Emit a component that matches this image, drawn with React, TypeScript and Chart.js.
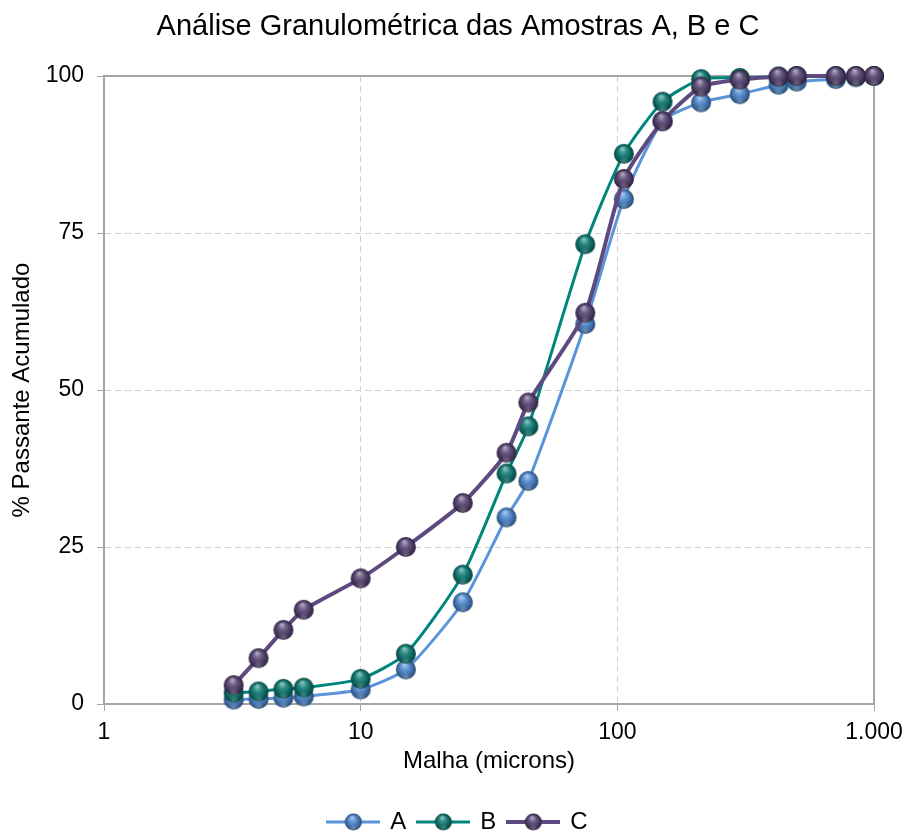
import React, { useEffect, useRef } from "react";
import { Chart, registerables } from "chart.js";

Chart.register(...registerables);

// ---- data ----
const sieveSizes = [3.2, 4, 5, 6, 10, 15, 25, 37, 45, 75, 106, 150, 212, 300, 425, 500, 710, 850, 1000];
const passingA = [0.7, 0.8, 1.0, 1.2, 2.3, 5.5, 16.2, 29.7, 35.5, 60.5, 80.4, 92.8, 95.8, 97.1, 98.6, 99.1, 99.5, 99.8, 100];
const passingB = [1.8, 2.0, 2.4, 2.6, 4.0, 8.0, 20.6, 36.7, 44.2, 73.2, 87.6, 95.9, 99.5, 99.7, 99.9, 100, 100, 100, 100];
const passingC = [3.0, 7.3, 11.8, 15.0, 20.0, 25.0, 32.0, 40.0, 48.0, 62.3, 83.6, 92.8, 98.3, 99.4, 99.9, 100, 100, 100, 100];
const seriesNames = ["A", "B", "C"];
const xTickValues = [1, 10, 100, 1000];
const xTickLabels = ["1", "10", "100", "1.000"];
const yTickValues = [0, 25, 50, 75, 100];

const chartTitle = "Análise Granulométrica das Amostras A, B e C";
const xTitle = "Malha (microns)";
const yTitle = "% Passante Acumulado";

// ---- styles ----
const lineColors = ["#5B94D9", "#00857C", "#5E4A80"];
const markerColors = ["#4A86CF", "#0B7A72", "#564373"];
const lineWidths = [3, 3, 4];
const FONT = '"Liberation Sans", Arial, sans-serif';

function hexToRgb(h: string) {
  const n = parseInt(h.slice(1), 16);
  return [(n >> 16) & 255, (n >> 8) & 255, n & 255];
}
function mix(h: string, t: string, a: number) {
  const c = hexToRgb(h);
  const d = hexToRgb(t);
  return `rgb(${c.map((v, i) => Math.round(v + (d[i] - v) * a)).join(",")})`;
}

function drawSphere(ctx: CanvasRenderingContext2D, cx: number, cy: number, r: number, color: string) {
  const g = ctx.createRadialGradient(cx - r * 0.15, cy - r * 0.55, r * 0.05, cx, cy + r * 0.05, r * 1.05);
  g.addColorStop(0, mix(color, "#ffffff", 0.55));
  g.addColorStop(0.35, mix(color, "#ffffff", 0.12));
  g.addColorStop(0.75, mix(color, "#000000", 0.25));
  g.addColorStop(1, mix(color, "#000000", 0.55));
  ctx.fillStyle = g;
  ctx.beginPath();
  ctx.arc(cx, cy, r, 0, Math.PI * 2);
  ctx.fill();
  const g2 = ctx.createRadialGradient(cx, cy + r * 0.8, 0, cx, cy + r * 0.8, r * 0.55);
  g2.addColorStop(0, "rgba(255,255,255,0.25)");
  g2.addColorStop(1, "rgba(255,255,255,0)");
  ctx.fillStyle = g2;
  ctx.beginPath();
  ctx.arc(cx, cy, r, 0, Math.PI * 2);
  ctx.fill();
}

function makeSphere(color: string, r: number) {
  const c = document.createElement("canvas");
  const size = Math.ceil(r * 2 + 2);
  c.width = size;
  c.height = size;
  const ctx = c.getContext("2d")!;
  drawSphere(ctx, size / 2, size / 2, r, color);
  return c;
}

function makeLegendImage(lineColor: string, markerColor: string, lw: number) {
  const c = document.createElement("canvas");
  c.width = 54;
  c.height = 20;
  const ctx = c.getContext("2d")!;
  ctx.strokeStyle = lineColor;
  ctx.lineWidth = lw;
  ctx.beginPath();
  ctx.moveTo(0, 10);
  ctx.lineTo(54, 10);
  ctx.stroke();
  drawSphere(ctx, 27, 10, 8.5, markerColor);
  return c;
}

const plotBorder = {
  id: "plotBorder",
  beforeDatasetsDraw(chart: any) {
    const { ctx, chartArea } = chart;
    ctx.save();
    ctx.strokeStyle = "#a6a6a6";
    ctx.lineWidth = 2;
    ctx.beginPath();
    ctx.moveTo(chartArea.left, chartArea.top);
    ctx.lineTo(chartArea.right, chartArea.top);
    ctx.lineTo(chartArea.right, chartArea.bottom);
    ctx.stroke();
    ctx.restore();
  },
};

export default function App() {
  const ref = useRef<HTMLCanvasElement | null>(null);

  useEffect(() => {
    if (!ref.current) return;
    const series = [passingA, passingB, passingC];
    const spheres = markerColors.map((c) => makeSphere(c, 10));
    const legendImgs = markerColors.map((c, i) => makeLegendImage(lineColors[i], c, lineWidths[i]));

    const chart = new Chart(ref.current, {
      type: "line",
      data: {
        datasets: series.map((vals, i) => ({
          label: seriesNames[i],
          data: sieveSizes.map((x, j) => ({ x, y: vals[j] })),
          borderColor: lineColors[i],
          backgroundColor: markerColors[i],
          borderWidth: lineWidths[i],
          pointStyle: spheres[i] as any,
          pointRadius: 10,
          pointHoverRadius: 10,
          tension: 0.2,
          order: 2 - i,
          clip: false as any,
        })),
      },
      options: {
        animation: false,
        responsive: false,
        devicePixelRatio: 1,
        font: { family: FONT },
        layout: { padding: { left: 42, right: 29, top: 0, bottom: -10 } },
        plugins: {
          title: {
            display: true,
            text: chartTitle,
            color: "#000",
            font: { family: FONT, size: 29, weight: "normal" },
            padding: { top: 10, bottom: 31.2 },
          },
          legend: {
            position: "bottom",
            labels: {
              usePointStyle: true,
              pointStyleWidth: 50,
              color: "#000",
              font: { family: FONT, size: 24 },
              padding: 12,
              generateLabels: () =>
                seriesNames.map((n, i) => ({
                  text: n,
                  pointStyle: legendImgs[i] as any,
                  fillStyle: markerColors[i],
                  strokeStyle: lineColors[i],
                  lineWidth: 0,
                  hidden: false,
                  datasetIndex: i,
                  fontColor: "#000",
                })),
            },
          },
          tooltip: { enabled: false },
        },
        scales: {
          x: {
            type: "logarithmic",
            min: 1,
            max: 1000,
            afterBuildTicks: (s: any) => {
              s.ticks = xTickValues.map((v) => ({ value: v }));
            },
            afterFit: (s: any) => {
              s.height = 94;
              s.paddingRight = 0;
              s.paddingLeft = 0;
            },
            ticks: {
              callback: (_v: any, i: number) => xTickLabels[i],
              autoSkip: false,
              maxRotation: 0,
              color: "#000",
              font: { family: FONT, size: 23 },
              padding: 8,
            },
            grid: {
              color: (c: any) =>
                c.tick && (c.tick.value === 1 || c.tick.value === 1000) ? "rgba(0,0,0,0)" : "#d0d0d0",
              tickColor: "#a6a6a6",
              tickLength: 7,
              lineWidth: 1,
            },
            border: { color: "#a6a6a6", width: 2, dash: [6, 4] },
            title: {
              display: true,
              text: xTitle,
              color: "#000",
              font: { family: FONT, size: 24 },
              padding: { top: 0, bottom: 22.6 },
            },
          },
          y: {
            min: 0,
            max: 100,
            afterBuildTicks: (s: any) => {
              s.ticks = yTickValues.map((v) => ({ value: v }));
            },
            afterFit: (s: any) => {
              s.width = 62;
            },
            ticks: {
              color: "#000",
              font: { family: FONT, size: 23 },
              padding: 13,
            },
            grid: {
              color: (c: any) =>
                c.tick && (c.tick.value === 0 || c.tick.value === 100) ? "rgba(0,0,0,0)" : "#d0d0d0",
              tickColor: "#a6a6a6",
              tickLength: 7,
              lineWidth: 1,
            },
            border: { color: "#a6a6a6", width: 2, dash: [6, 4] },
            title: {
              display: true,
              text: yTitle,
              color: "#000",
              font: { family: FONT, size: 24 },
              padding: { top: -34.4, bottom: 0 },
            },
          },
        },
      } as any,
      plugins: [plotBorder],
    });
    return () => chart.destroy();
  }, []);

  return (
    <div style={{ position: "fixed", left: 0, top: 0, width: 903, height: 834, background: "#fff" }}>
      <canvas ref={ref} width={903} height={834} style={{ display: "block", width: 903, height: 834 }} />
    </div>
  );
}
